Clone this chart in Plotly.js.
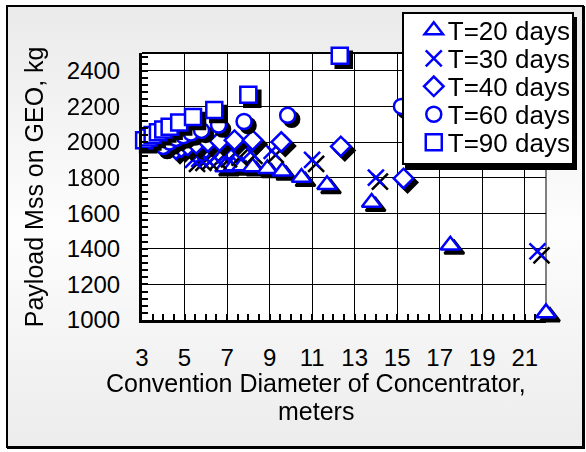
<!DOCTYPE html>
<html>
<head>
<meta charset="utf-8">
<script src="https://cdn.plot.ly/plotly-3.0.1.min.js"></script>
<style>
  html, body { margin: 0; padding: 0; width: 586px; height: 452px; overflow: hidden; background: #ffffff; }
  #frame { position: absolute; left: 6px; top: 5px; width: 574px; height: 439px;
           border: 2px solid #000; box-shadow: 1px 1px 0 #000;
           background: linear-gradient(to bottom, #eaeaea 0%, #fdfdfd 50%, #ececec 100%); }
  #chart { position: absolute; left: 0; top: 0; width: 586px; height: 452px; }
  #chart .scatterlayer .trace { filter: drop-shadow(4px 4px 0 #000); }
  #chart .legend .bg { filter: drop-shadow(3px 5px 0 #000); }
</style>
</head>
<body>
<div id="frame"></div>
<div id="chart"></div>
<script>
// T = 20 days
const x20 = [6.9, 7.3, 7.7, 8.2, 8.9, 9.6, 10.5, 11.7, 13.8, 17.5, 22.0];
const y20 = [1860, 1865, 1865, 1860, 1850, 1835, 1800, 1760, 1660, 1420, 1040];
// T = 30 days
const x30 = [5.4, 5.7, 6.0, 6.4, 6.9, 7.4, 8.1, 9.1, 11.0, 14.0, 21.6];
const y30 = [1900, 1905, 1910, 1915, 1925, 1935, 1945, 1950, 1900, 1800, 1385];
// T = 40 days
const x40 = [4.6, 4.85, 5.15, 5.55, 6.1, 6.65, 7.35, 8.2, 9.55, 12.35, 15.3];
const y40 = [1960, 1970, 1980, 1990, 2000, 2005, 2010, 2010, 2000, 1975, 1795];
// T = 60 days
const x60 = [4.0, 4.3, 4.6, 4.95, 5.3, 5.8, 6.6, 7.8, 9.85, 15.2];
const y60 = [1975, 2000, 2020, 2035, 2050, 2065, 2095, 2115, 2150, 2200];
// T = 90 days
const x90 = [3.1, 3.3, 3.5, 3.75, 4.0, 4.3, 4.75, 5.4, 6.4, 8.0, 12.3];
const y90 = [2010, 2025, 2040, 2055, 2070, 2085, 2110, 2140, 2180, 2265, 2485];

const names = ["T=20 days", "T=30 days", "T=40 days", "T=60 days", "T=90 days"];
const xTitle1 = "Convention Diameter of Concentrator,";
const xTitle2 = "meters";
const yTitle = "Payload Mss on GEO, kg";

const blue = "#0000ff";
const font = "Arial, 'Liberation Sans', sans-serif";

function tr(x, y, name, symbol, size) {
  const isX = symbol === "x-thin";
  return {
    x: x, y: y, name: name, type: "scatter", mode: "markers", cliponaxis: false,
    marker: { symbol: symbol, size: size, color: isX ? blue : "#ffffff",
              line: { color: blue, width: 2.5 } }
  };
}

const data = [
  tr(x20, y20, names[0], "triangle-up", 17),
  tr(x30, y30, names[1], "x-thin", 16),
  tr(x40, y40, names[2], "diamond", 15),
  tr(x60, y60, names[3], "circle", 15),
  tr(x90, y90, names[4], "square", 16)
];

const axisCommon = {
  showgrid: true, gridcolor: "#000", gridwidth: 1,
  showline: true, linecolor: "#000", linewidth: 3,
  ticks: "inside", ticklen: 6, tickwidth: 2, tickcolor: "#000",
  zeroline: false,
  tickfont: { family: font, size: 24, color: "#000" }
};

const layout = {
  width: 586, height: 452,
  margin: { l: 142, r: 38, t: 53, b: 132 },
  paper_bgcolor: "rgba(0,0,0,0)",
  plot_bgcolor: "#ffffff",
  showlegend: true,
  xaxis: Object.assign({}, axisCommon, {
    range: [3, 22], tick0: 3, dtick: 2, ticklabelstandoff: 14,
    minor: { tick0: 3, dtick: 0.5, ticks: "inside", ticklen: 6, tickwidth: 2, tickcolor: "#000", showgrid: false }
  }),
  yaxis: Object.assign({}, axisCommon, {
    range: [1000, 2500], tick0: 1000, dtick: 200, ticklabelstandoff: 14,
    minor: { tick0: 1000, dtick: 40, ticks: "inside", ticklen: 6, tickwidth: 2, tickcolor: "#000", showgrid: false }
  }),
  legend: {
    x: 0.643, y: 1.154, xanchor: "left", yanchor: "top",
    bgcolor: "#ffffff", bordercolor: "#000", borderwidth: 2,
    font: { family: font, size: 26, color: "#000" },
    tracegroupgap: 0, itemwidth: 30
  },
  shapes: [
    { type: "line", xref: "paper", yref: "paper", x0: 0, x1: 1, y0: 1, y1: 1, layer: "below",
      line: { color: "#000", width: 2 } },
    { type: "line", xref: "paper", yref: "paper", x0: 1, x1: 1, y0: 0, y1: 1, layer: "below",
      line: { color: "#808080", width: 2 } }
  ],
  annotations: [
    { text: xTitle1, xref: "paper", yref: "paper", x: 0.431, y: -0.236, xanchor: "center", yanchor: "middle",
      showarrow: false, font: { family: font, size: 25, color: "#000" } },
    { text: xTitle2, xref: "paper", yref: "paper", x: 0.431, y: -0.341, xanchor: "center", yanchor: "middle",
      showarrow: false, font: { family: font, size: 25, color: "#000" } },
    { text: yTitle, xref: "paper", yref: "paper", x: -0.268, y: 0.5, xanchor: "center", yanchor: "middle",
      textangle: -90, showarrow: false, font: { family: font, size: 25, color: "#000" } }
  ]
};

Plotly.newPlot("chart", data, layout, { displayModeBar: false, staticPlot: true }).then(function (gd) {
  // tighten legend row spacing to match the reference (28px rows)
  const items = gd.querySelectorAll(".legend .traces");
  if (!items.length) return;
  const re = /translate\(\s*([-\d.]+)[ ,]+([-\d.]+)\s*\)/;
  const m0 = re.exec(items[0].getAttribute("transform") || "");
  if (!m0) return;
  const y0 = parseFloat(m0[2]) - 7;
  items.forEach(function (g, i) {
    const m = re.exec(g.getAttribute("transform") || "");
    if (!m) return;
    g.setAttribute("transform", "translate(" + (parseFloat(m[1]) + 4) + "," + (y0 + 28 * i) + ")");
    const pts = g.querySelector(".legendpoints");
    if (pts) pts.setAttribute("transform", "translate(6,0)");
  });
  const bg = gd.querySelector(".legend .bg");
  if (bg) bg.setAttribute("height", 151);
});
</script>
</body>
</html>
